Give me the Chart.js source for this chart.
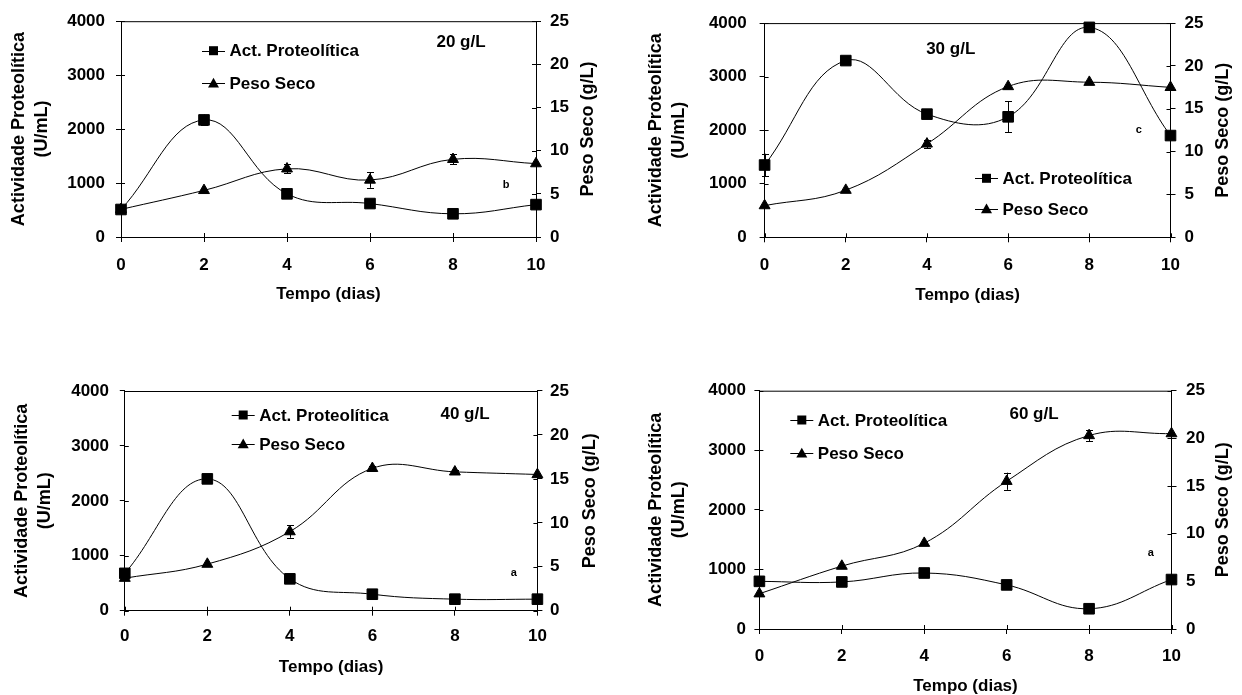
<!DOCTYPE html>
<html>
<head>
<meta charset="utf-8">
<script src="https://cdn.jsdelivr.net/npm/chart.js@4.4.1/dist/chart.umd.min.js"></script>
<style>
  html, body { margin: 0; padding: 0; background: #fff; }
  body { width: 1242px; height: 695px; position: relative; overflow: hidden; }
  canvas { position: absolute; }
</style>
</head>
<body>
<canvas id="c20"></canvas>
<canvas id="c30"></canvas>
<canvas id="c40"></canvas>
<canvas id="c60"></canvas>
<script>
// ---- data ----
const days = [0, 2, 4, 6, 8, 10];
const seriesNames = ['Act. Proteolítica', 'Peso Seco'];
const concLabels = ['20 g/L', '30 g/L', '40 g/L', '60 g/L'];
const groupLetters = ['b', 'c', 'a', 'a'];

// proteolytic activity (U/mL)
const act20 = [510, 2170, 800, 620, 430, 600];
const act30 = [1350, 3300, 2300, 2250, 3920, 1900];
const act40 = [680, 2400, 580, 300, 210, 210];
const act60 = [800, 790, 940, 740, 340, 830];
const errAct20 = [0, 100, 0, 0, 0, 0];
const errAct30 = [210, 0, 0, 290, 0, 0];
const errAct40 = [0, 0, 0, 0, 0, 0];
const errAct60 = [0, 0, 60, 0, 0, 0];

// dry weight (g/L)
const peso20 = [3.2, 5.4, 7.9, 6.6, 9.0, 8.5];
const peso30 = [3.7, 5.5, 10.9, 17.6, 18.1, 17.5];
const peso40 = [3.7, 5.3, 9.0, 16.2, 15.8, 15.5];
const peso60 = [3.7, 6.6, 9.0, 15.5, 20.3, 20.5];
const errPeso20 = [0, 0, 0.5, 0.9, 0.6, 0];
const errPeso30 = [0, 0, 0.5, 0, 0, 0];
const errPeso40 = [0, 0, 0.7, 0.3, 0.2, 0];
const errPeso60 = [0, 0, 0, 0.9, 0.6, 0];

const actTicks = { min: 0, max: 4000, step: 1000 };
const pesoTicks = { min: 0, max: 25, step: 5 };
const dayTicks = { min: 0, max: 10, step: 2 };
const leftTitle = ['Actividade Proteolítica', '(U/mL)'];
const rightTitle = 'Peso Seco (g/L)';
const bottomTitle = 'Tempo (dias)';

// ---- layout (page coordinates) ----
const layouts = [
  { id: 'c20', left: 0, top: 0, w: 620, h: 310, area: { l: 121, t: 19, r: 536, b: 237 },
    leftTitleX: 18.6, rightTitleX: 588, xTitleY: 294, xTickY: 265, leftTickRight: 105, rightTickLeft: 550,
    legend: { x: 202, y: [50.7, 83.3] }, conc: { x: 461, y: 41.7 }, letter: { x: 506, y: 185 } },
  { id: 'c30', left: 620, top: 0, w: 622, h: 310, area: { l: 764.6, t: 18.3, r: 1170.5, b: 237.3 },
    leftTitleX: 655.6, rightTitleX: 1222.8, xTitleY: 295, xTickY: 265, leftTickRight: 746.7, rightTickLeft: 1184.5,
    legend: { x: 975, y: [178.3, 209] }, conc: { x: 950.7, y: 48.3 }, letter: { x: 1138.8, y: 130 } },
  { id: 'c40', left: 0, top: 370, w: 620, h: 325, area: { l: 124.8, t: 390, r: 537.4, b: 610.7 },
    leftTitleX: 21.8, rightTitleX: 590, xTitleY: 667.3, xTickY: 636.7, leftTickRight: 109, rightTickLeft: 550,
    legend: { x: 231.7, y: [415, 444] }, conc: { x: 465, y: 413.3 }, letter: { x: 513.7, y: 573.3 } },
  { id: 'c60', left: 620, top: 370, w: 622, h: 325, area: { l: 759.4, t: 390.7, r: 1171.5, b: 629 },
    leftTitleX: 655.6, rightTitleX: 1223, xTitleY: 686, xTickY: 656.7, leftTickRight: 746, rightTickLeft: 1186,
    legend: { x: 790.3, y: [420, 453.3] }, conc: { x: 1034, y: 413.3 }, letter: { x: 1150.7, y: 552.7 } }
];

const FONT = "'Liberation Sans', Arial, sans-serif";
const TICK_LEN = 5;
const TICK_IN = 4;
const tickFont = { family: FONT, size: 17, weight: 'bold', lineHeight: 1.2 };
const yTitleFont = { family: FONT, size: 18, weight: 'bold', lineHeight: 23 / 18 };
const xTitleFont = { family: FONT, size: 17, weight: 'bold', lineHeight: 1 };

// ---- plugins ----
// top frame line plus the inner half of the crossing tick marks
const framePlugin = {
  id: 'frameTop',
  beforeDatasetsDraw(chart) {
    const { ctx, chartArea: a, scales } = chart;
    ctx.save();
    ctx.strokeStyle = '#000';
    ctx.lineWidth = 1;
    ctx.beginPath();
    ctx.moveTo(a.left, a.top + 0.5);
    ctx.lineTo(a.right, a.top + 0.5);
    scales.x.ticks.forEach(t => {
      const px = Math.round(scales.x.getPixelForValue(t.value)) + 0.5;
      ctx.moveTo(px, a.bottom); ctx.lineTo(px, a.bottom - TICK_IN);
    });
    scales.y.ticks.forEach(t => {
      const py = Math.round(scales.y.getPixelForValue(t.value)) + 0.5;
      ctx.moveTo(a.left, py); ctx.lineTo(a.left + TICK_IN, py);
    });
    scales.y1.ticks.forEach(t => {
      const py = Math.round(scales.y1.getPixelForValue(t.value)) + 0.5;
      ctx.moveTo(a.right, py); ctx.lineTo(a.right - TICK_IN, py);
    });
    ctx.stroke();
    ctx.restore();
  }
};

const errorBarPlugin = {
  id: 'errorBars',
  afterDatasetsDraw(chart) {
    const ctx = chart.ctx;
    const xs = chart.scales.x;
    ctx.save();
    ctx.strokeStyle = '#000';
    ctx.lineWidth = 1;
    chart.data.datasets.forEach(ds => {
      const ys = chart.scales[ds.yAxisID];
      (ds.errors || []).forEach((e, j) => {
        if (!e) return;
        const p = ds.data[j];
        const x = Math.round(xs.getPixelForValue(p.x)) + 0.5;
        const y1 = ys.getPixelForValue(p.y - e);
        const y2 = ys.getPixelForValue(p.y + e);
        ctx.beginPath();
        ctx.moveTo(x, y1); ctx.lineTo(x, y2);
        ctx.moveTo(x - 3.5, Math.round(y1) + 0.5); ctx.lineTo(x + 3.5, Math.round(y1) + 0.5);
        ctx.moveTo(x - 3.5, Math.round(y2) + 0.5); ctx.lineTo(x + 3.5, Math.round(y2) + 0.5);
        ctx.stroke();
      });
    });
    ctx.restore();
  }
};

function drawMarker(ctx, style, x, y, size) {
  ctx.beginPath();
  if (style === 'rect') {
    ctx.rect(x - size / 2, y - size / 2, size, size);
  } else {
    ctx.moveTo(x, y - size * 0.55);
    ctx.lineTo(x + size * 0.55, y + size * 0.42);
    ctx.lineTo(x - size * 0.55, y + size * 0.42);
    ctx.closePath();
  }
  ctx.fill();
}

const notesPlugin = {
  id: 'notes',
  afterDraw(chart) {
    const o = chart.options.plugins.notes;
    const ctx = chart.ctx;
    const a = chart.chartArea;
    ctx.save();
    ctx.fillStyle = '#000';
    ctx.strokeStyle = '#000';
    ctx.lineWidth = 1;
    ctx.textBaseline = 'middle';
    // inline legend: line with marker, then series name
    chart.data.datasets.forEach((ds, i) => {
      const y = o.legend.y[i];
      ctx.beginPath();
      ctx.moveTo(o.legend.x, Math.round(y) + 0.5);
      ctx.lineTo(o.legend.x + 23, Math.round(y) + 0.5);
      ctx.stroke();
      drawMarker(ctx, ds.pointStyle, o.legend.x + 11.5, y, ds.pointStyle === 'rect' ? 9 : 10);
      ctx.font = `bold 17px ${FONT}`;
      ctx.textAlign = 'left';
      ctx.fillText(ds.label, o.legend.x + 27.5, y + 1);
    });
    ctx.font = `bold 17px ${FONT}`;
    ctx.textAlign = 'center';
    ctx.fillText(o.conc.text, o.conc.x, o.conc.y + 1);
    ctx.font = `bold 11px ${FONT}`;
    ctx.fillText(o.letter.text, o.letter.x, o.letter.y);
    // right axis title, read bottom to top
    ctx.translate(o.rightTitleX, (a.top + a.bottom) / 2);
    ctx.rotate(-Math.PI / 2);
    ctx.font = `bold ${yTitleFont.size}px ${FONT}`;
    ctx.fillText(rightTitle, 0, 0);
    ctx.restore();
  }
};

const plainNumber = v => String(v);

function buildChart(k, act, errAct, peso, errPeso) {
  const L = layouts[k];
  const cv = document.getElementById(L.id);
  cv.width = L.w; cv.height = L.h;
  cv.style.left = L.left + 'px'; cv.style.top = L.top + 'px';
  const leftW = L.area.l - L.left;
  const rightW = L.left + L.w - L.area.r;
  const bottomH = L.top + L.h - L.area.b;
  const padTop = L.area.t - L.top;
  const yLH = yTitleFont.size * yTitleFont.lineHeight;
  const tickLH = tickFont.size * tickFont.lineHeight;
  const xLH = xTitleFont.size * xTitleFont.lineHeight;

  const common = {
    borderColor: '#000', backgroundColor: '#000',
    pointBackgroundColor: '#000', pointBorderColor: '#000', pointBorderWidth: 1,
    borderWidth: 1, tension: 0.4, clip: false, fill: false
  };
  const toPts = arr => days.map((d, i) => ({ x: d, y: arr[i] }));

  const axisBase = {
    grid: { display: true, drawOnChartArea: false, drawTicks: true, tickLength: TICK_LEN, color: '#000', tickWidth: 1 },
    border: { display: true, color: '#000', width: 1 }
  };

  return new Chart(cv, {
    type: 'line',
    data: {
      datasets: [
        Object.assign({ label: seriesNames[0], data: toPts(act), errors: errAct, yAxisID: 'y',
          pointStyle: 'rect', pointRadius: 7.5 }, common),
        Object.assign({ label: seriesNames[1], data: toPts(peso), errors: errPeso, yAxisID: 'y1',
          pointStyle: 'triangle', pointRadius: 6.3 }, common)
      ]
    },
    options: {
      responsive: false,
      animation: false,
      events: [],
      layout: { padding: { top: padTop, left: 0, right: 0, bottom: 0 } },
      plugins: {
        legend: { display: false },
        tooltip: { enabled: false },
        notes: {
          legend: { x: L.legend.x - L.left, y: L.legend.y.map(v => v - L.top) },
          conc: { text: concLabels[k], x: L.conc.x - L.left, y: L.conc.y - L.top },
          letter: { text: groupLetters[k], x: L.letter.x - L.left, y: L.letter.y - L.top },
          rightTitleX: L.rightTitleX - L.left
        }
      },
      scales: {
        x: Object.assign({}, axisBase, {
          type: 'linear', min: dayTicks.min, max: dayTicks.max,
          ticks: { stepSize: dayTicks.step, color: '#000', font: tickFont, callback: plainNumber,
                   padding: L.xTickY - L.area.b - TICK_LEN - tickLH / 2, maxRotation: 0 },
          title: { display: true, text: bottomTitle, color: '#000', font: xTitleFont,
                   padding: { top: 0, bottom: L.top + L.h - L.xTitleY - xLH / 2 } },
          afterFit: s => { s.height = bottomH; }
        }),
        y: Object.assign({}, axisBase, {
          position: 'left', min: actTicks.min, max: actTicks.max,
          ticks: { stepSize: actTicks.step, color: '#000', font: tickFont, callback: plainNumber,
                   padding: L.area.l - TICK_LEN - L.leftTickRight },
          title: { display: true, text: leftTitle, color: '#000', font: yTitleFont,
                   padding: { top: L.leftTitleX - L.left - yLH / 2, bottom: 0 } },
          afterFit: s => { s.width = leftW; }
        }),
        y1: Object.assign({}, axisBase, {
          position: 'right', min: pesoTicks.min, max: pesoTicks.max,
          ticks: { stepSize: pesoTicks.step, color: '#000', font: tickFont, callback: plainNumber,
                   padding: L.rightTickLeft - L.area.r - TICK_LEN },
          title: { display: false },
          afterFit: s => { s.width = rightW; }
        })
      }
    },
    plugins: [framePlugin, errorBarPlugin, notesPlugin]
  });
}

buildChart(0, act20, errAct20, peso20, errPeso20);
buildChart(1, act30, errAct30, peso30, errPeso30);
buildChart(2, act40, errAct40, peso40, errPeso40);
buildChart(3, act60, errAct60, peso60, errPeso60);
</script>
</body>
</html>
